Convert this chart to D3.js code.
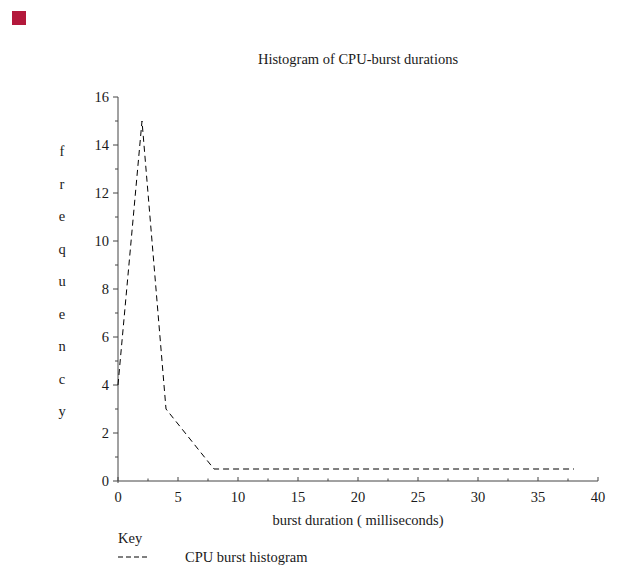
<!DOCTYPE html>
<html>
<head>
<meta charset="utf-8">
<script src="https://d3js.org/d3.v7.min.js"></script>
<style>
  body { margin: 0; background: #fff; }
  text { font-family: "Liberation Serif", "Times New Roman", serif; fill: #1a1a1a; }
</style>
</head>
<body>
<svg id="chart" width="621" height="568"></svg>
<script>
// data
const burstMs   = [0, 2, 4, 8, 16, 24, 32, 38];
const frequency = [4, 15, 3, 0.5, 0.5, 0.5, 0.5, 0.5];
const xTicks = [0, 5, 10, 15, 20, 25, 30, 35, 40];
const yTicks = [0, 2, 4, 6, 8, 10, 12, 14, 16];
const yLetters = "frequency".split("");

const svg = d3.select("#chart");
const plot = { left: 118, right: 598, top: 97, bottom: 481 };
const fs = "14.5px";

const x = d3.scaleLinear().domain([0, 40]).range([plot.left, plot.right]);
const y = d3.scaleLinear().domain([0, 16]).range([plot.bottom, plot.top]);

// little red square top-left
svg.append("rect").attr("x", 12).attr("y", 11).attr("width", 14).attr("height", 14)
   .attr("fill", "#b3183b");

// title
svg.append("text").attr("x", 358).attr("y", 64).attr("text-anchor", "middle")
   .attr("font-size", fs).text("Histogram of CPU-burst durations");

// x axis: minor ticks every 2.5, ticks pointing up
const xAxis = svg.append("g").attr("transform", "translate(0," + plot.bottom + ")");
xAxis.append("line").attr("x1", plot.left).attr("x2", plot.right).attr("stroke", "#444");
xAxis.selectAll("line.minor").data(d3.range(0, 40.1, 2.5)).enter().append("line")
   .attr("class", "minor")
   .attr("x1", d => x(d)).attr("x2", d => x(d))
   .attr("y1", 0).attr("y2", d => d % 5 === 0 ? -4 : -2.5)
   .attr("stroke", "#444");
xAxis.selectAll("text").data(xTicks).enter().append("text")
   .attr("x", d => x(d)).attr("y", 21).attr("text-anchor", "middle")
   .attr("font-size", fs).text(d => d);

svg.append("text").attr("x", 358).attr("y", 525).attr("text-anchor", "middle")
   .attr("font-size", fs).text("burst duration ( milliseconds)");

// y axis: minor ticks every 1, ticks pointing left
const yAxis = svg.append("g").attr("transform", "translate(" + plot.left + ",0)");
yAxis.append("line").attr("y1", plot.top).attr("y2", plot.bottom + 2).attr("stroke", "#444");
yAxis.selectAll("line.minor").data(d3.range(0, 17, 1)).enter().append("line")
   .attr("class", "minor")
   .attr("y1", d => y(d)).attr("y2", d => y(d))
   .attr("x1", 0).attr("x2", d => d % 2 === 0 ? -5 : -3)
   .attr("stroke", "#444");
yAxis.selectAll("text").data(yTicks).enter().append("text")
   .attr("x", -9).attr("y", d => y(d)).attr("dy", "0.35em").attr("text-anchor", "end")
   .attr("font-size", fs).text(d => d);

// vertical "frequency" label, one letter per line
svg.selectAll("text.ylab").data(yLetters).enter().append("text")
   .attr("class", "ylab")
   .attr("x", 62).attr("y", (d, i) => 151 + i * 32.5).attr("dy", "0.35em")
   .attr("text-anchor", "middle").attr("font-size", fs).text(d => d);

// the dashed series
const line = d3.line().x((d, i) => x(burstMs[i])).y(d => y(d));
svg.append("path").datum(frequency)
   .attr("d", line).attr("fill", "none")
   .attr("stroke", "#000").attr("stroke-width", 1)
   .attr("stroke-dasharray", "6,4");

// key
svg.append("text").attr("x", 118).attr("y", 543).attr("font-size", fs).text("Key");
svg.append("line").attr("x1", 118).attr("x2", 148).attr("y1", 557).attr("y2", 557)
   .attr("stroke", "#000").attr("stroke-dasharray", "5,3");
svg.append("text").attr("x", 185).attr("y", 562).attr("font-size", fs).text("CPU burst histogram");
</script>
</body>
</html>
